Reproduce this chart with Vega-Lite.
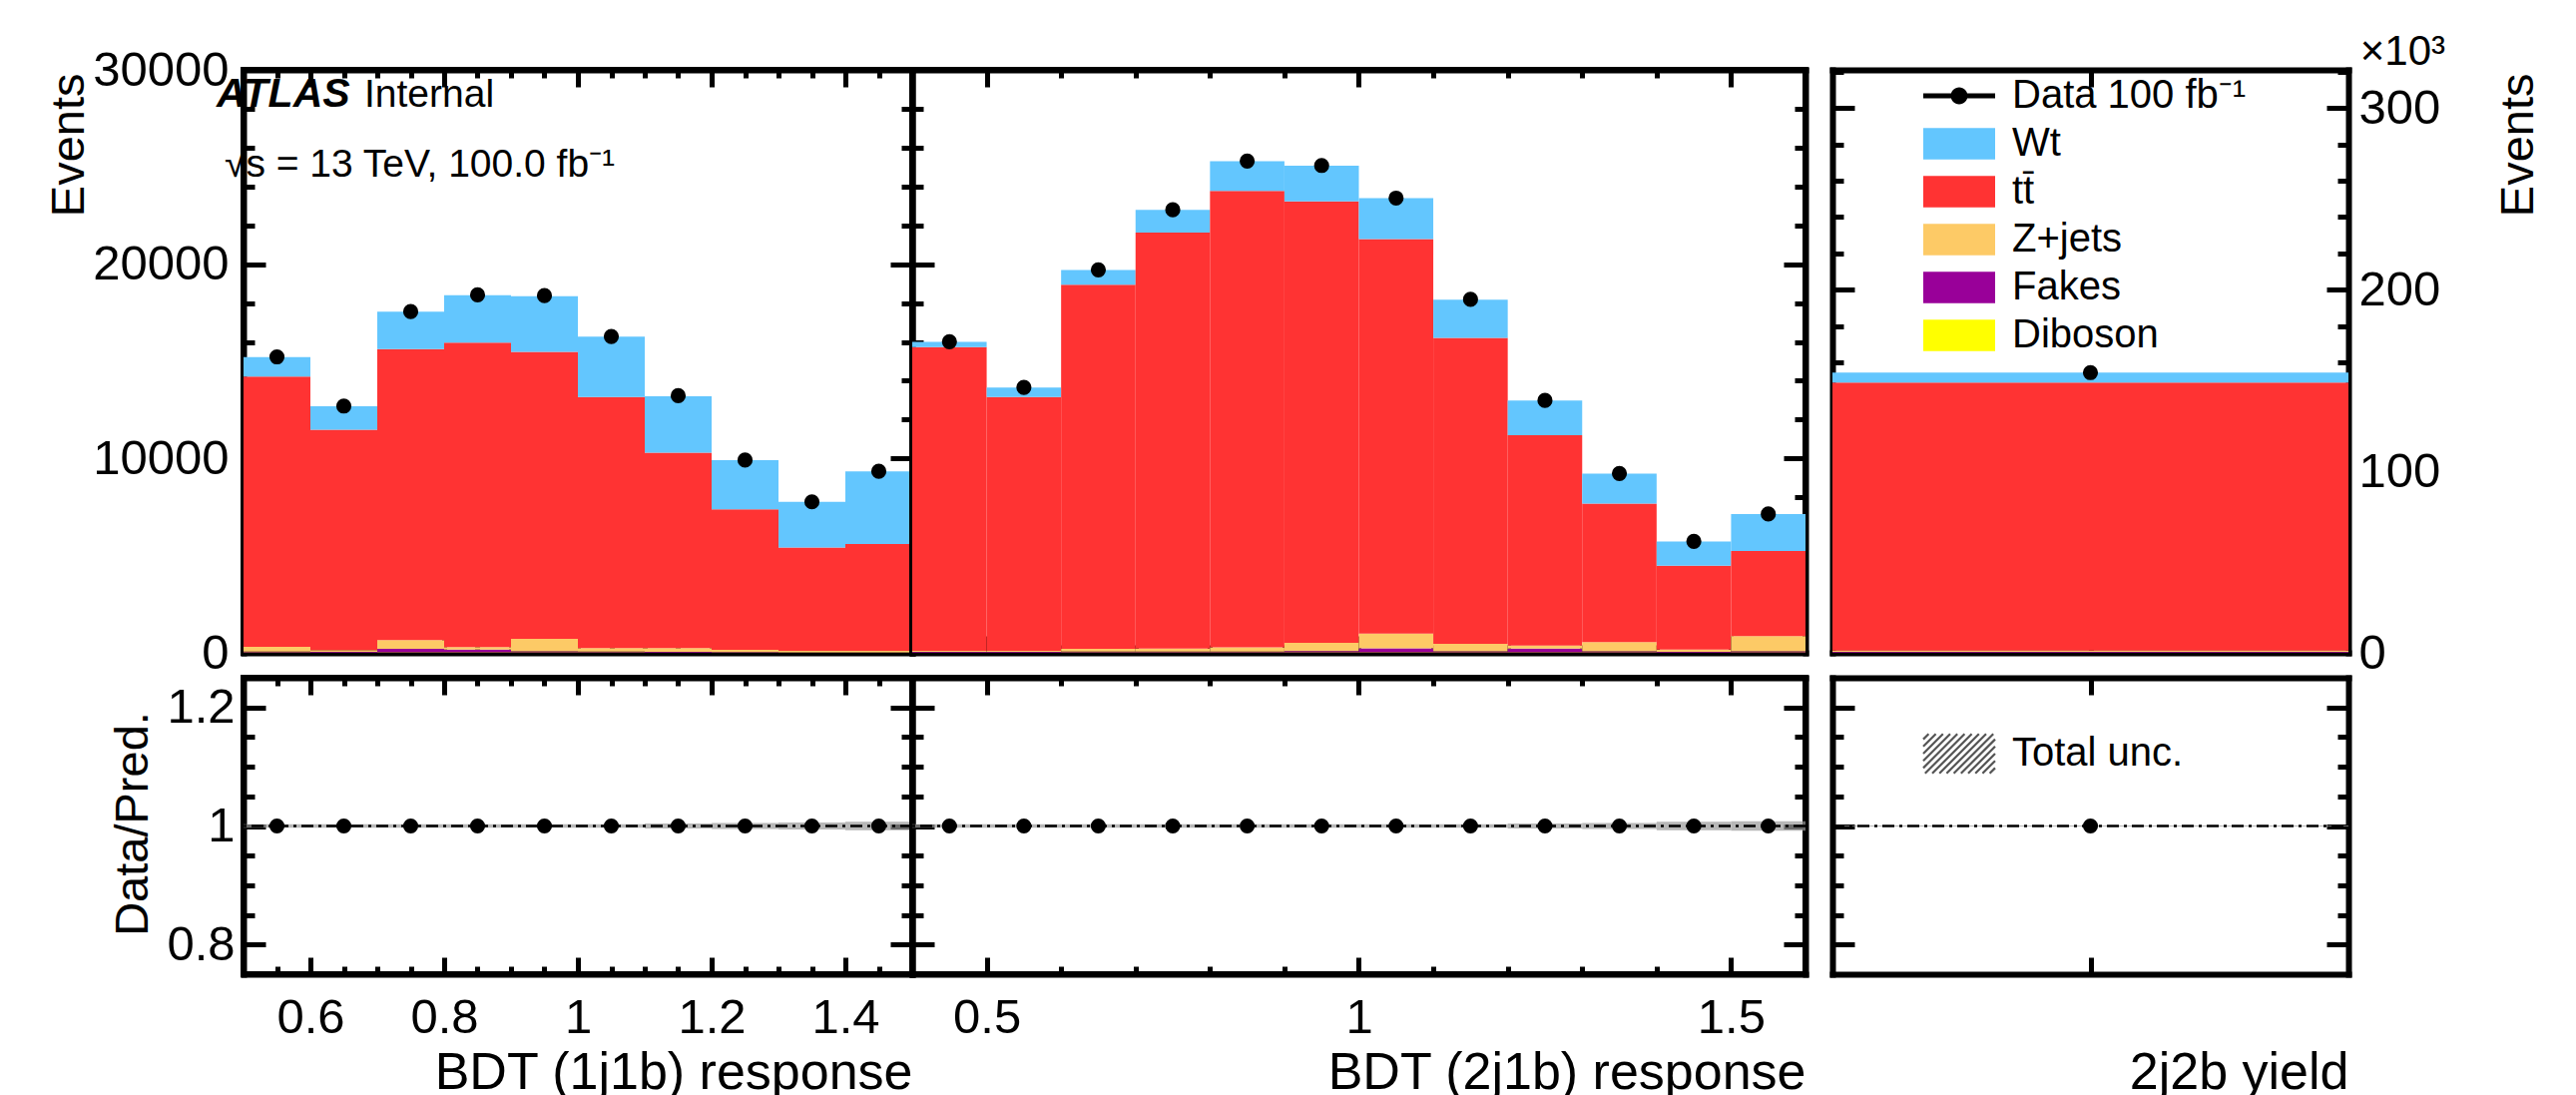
{
"$schema": "https://vega.github.io/schema/vega-lite/v6.json",
"background": "white",
"padding": {"left": 42, "top": 31, "right": 0, "bottom": 0},
"config": {
  "view": {"stroke": null},
  "font": "Liberation Sans",
  "axis": {"grid": false, "domain": true, "domainColor": "black", "domainWidth": 6, "domainCap": "square", "tickColor": "black", "tickWidth": 5, "labelFont": "Liberation Sans", "labelFontSize": 49, "labelColor": "black", "titleFont": "Liberation Sans", "titleFontWeight": "normal", "titleColor": "black", "labelOverlap": false, "labelFlush": false, "labelBound": false, "zindex": 1}
},
"datasets": {
  "p1": [
    {"lo":0.5,"hi":0.6,"process":"Diboson","k":1,"events":20},{"lo":0.5,"hi":0.6,"process":"Fakes","k":2,"events":40},{"lo":0.5,"hi":0.6,"process":"Z+jets","k":3,"events":250},{"lo":0.5,"hi":0.6,"process":"tt̄","k":4,"events":13905},{"lo":0.5,"hi":0.6,"process":"Wt","k":5,"events":1008},
    {"lo":0.6,"hi":0.7,"process":"Diboson","k":1,"events":15},{"lo":0.6,"hi":0.7,"process":"Fakes","k":2,"events":30},{"lo":0.6,"hi":0.7,"process":"Z+jets","k":3,"events":90},{"lo":0.6,"hi":0.7,"process":"tt̄","k":4,"events":11349},{"lo":0.6,"hi":0.7,"process":"Wt","k":5,"events":1209},
    {"lo":0.7,"hi":0.8,"process":"Diboson","k":1,"events":25},{"lo":0.7,"hi":0.8,"process":"Fakes","k":2,"events":180},{"lo":0.7,"hi":0.8,"process":"Z+jets","k":3,"events":445},{"lo":0.7,"hi":0.8,"process":"tt̄","k":4,"events":14976},{"lo":0.7,"hi":0.8,"process":"Wt","k":5,"events":1925},
    {"lo":0.8,"hi":0.9,"process":"Diboson","k":1,"events":20},{"lo":0.8,"hi":0.9,"process":"Fakes","k":2,"events":150},{"lo":0.8,"hi":0.9,"process":"Z+jets","k":3,"events":130},{"lo":0.8,"hi":0.9,"process":"tt̄","k":4,"events":15662},{"lo":0.8,"hi":0.9,"process":"Wt","k":5,"events":2440},
    {"lo":0.9,"hi":1.0,"process":"Diboson","k":1,"events":25},{"lo":0.9,"hi":1.0,"process":"Fakes","k":2,"events":50},{"lo":0.9,"hi":1.0,"process":"Z+jets","k":3,"events":645},{"lo":0.9,"hi":1.0,"process":"tt̄","k":4,"events":14771},{"lo":0.9,"hi":1.0,"process":"Wt","k":5,"events":2866},
    {"lo":1.0,"hi":1.1,"process":"Diboson","k":1,"events":20},{"lo":1.0,"hi":1.1,"process":"Fakes","k":2,"events":40},{"lo":1.0,"hi":1.1,"process":"Z+jets","k":3,"events":190},{"lo":1.0,"hi":1.1,"process":"tt̄","k":4,"events":12913},{"lo":1.0,"hi":1.1,"process":"Wt","k":5,"events":3112},
    {"lo":1.1,"hi":1.2,"process":"Diboson","k":1,"events":15},{"lo":1.1,"hi":1.2,"process":"Fakes","k":2,"events":35},{"lo":1.1,"hi":1.2,"process":"Z+jets","k":3,"events":200},{"lo":1.1,"hi":1.2,"process":"tt̄","k":4,"events":10048},{"lo":1.1,"hi":1.2,"process":"Wt","k":5,"events":2910},
    {"lo":1.2,"hi":1.3,"process":"Diboson","k":1,"events":10},{"lo":1.2,"hi":1.3,"process":"Fakes","k":2,"events":30},{"lo":1.2,"hi":1.3,"process":"Z+jets","k":3,"events":110},{"lo":1.2,"hi":1.3,"process":"tt̄","k":4,"events":7237},{"lo":1.2,"hi":1.3,"process":"Wt","k":5,"events":2530},
    {"lo":1.3,"hi":1.4,"process":"Diboson","k":1,"events":10},{"lo":1.3,"hi":1.4,"process":"Fakes","k":2,"events":20},{"lo":1.3,"hi":1.4,"process":"Z+jets","k":3,"events":70},{"lo":1.3,"hi":1.4,"process":"tt̄","k":4,"events":5317},{"lo":1.3,"hi":1.4,"process":"Wt","k":5,"events":2351},
    {"lo":1.4,"hi":1.5,"process":"Diboson","k":1,"events":10},{"lo":1.4,"hi":1.5,"process":"Fakes","k":2,"events":20},{"lo":1.4,"hi":1.5,"process":"Z+jets","k":3,"events":70},{"lo":1.4,"hi":1.5,"process":"tt̄","k":4,"events":5497},{"lo":1.4,"hi":1.5,"process":"Wt","k":5,"events":3738}
  ],
  "p1d": [
    {"c":0.55,"data":15230},{"c":0.65,"data":12700},{"c":0.75,"data":17560},{"c":0.85,"data":18420},{"c":0.95,"data":18380},
    {"c":1.05,"data":16280},{"c":1.15,"data":13230},{"c":1.25,"data":9920},{"c":1.35,"data":7770},{"c":1.45,"data":9340}
  ],
  "p1r": [
    {"lo":0.5,"hi":0.6,"c":0.55,"ratio":1,"dn":0.997,"up":1.003},{"lo":0.6,"hi":0.7,"c":0.65,"ratio":1,"dn":0.997,"up":1.003},
    {"lo":0.7,"hi":0.8,"c":0.75,"ratio":1,"dn":0.997,"up":1.003},{"lo":0.8,"hi":0.9,"c":0.85,"ratio":1,"dn":0.997,"up":1.003},
    {"lo":0.9,"hi":1.0,"c":0.95,"ratio":1,"dn":0.997,"up":1.003},{"lo":1.0,"hi":1.1,"c":1.05,"ratio":1,"dn":0.997,"up":1.003},
    {"lo":1.1,"hi":1.2,"c":1.15,"ratio":1,"dn":0.996,"up":1.004},{"lo":1.2,"hi":1.3,"c":1.25,"ratio":1,"dn":0.995,"up":1.005},
    {"lo":1.3,"hi":1.4,"c":1.35,"ratio":1,"dn":0.994,"up":1.006},{"lo":1.4,"hi":1.5,"c":1.45,"ratio":1,"dn":0.993,"up":1.007}
  ],
  "p2": [
    {"lo":0.4,"hi":0.5,"process":"Diboson","k":1,"events":15},{"lo":0.4,"hi":0.5,"process":"Fakes","k":2,"events":35},{"lo":0.4,"hi":0.5,"process":"Z+jets","k":3,"events":50},{"lo":0.4,"hi":0.5,"process":"tt̄","k":4,"events":15638},{"lo":0.4,"hi":0.5,"process":"Wt","k":5,"events":268},
    {"lo":0.5,"hi":0.6,"process":"Diboson","k":1,"events":15},{"lo":0.5,"hi":0.6,"process":"Fakes","k":2,"events":35},{"lo":0.5,"hi":0.6,"process":"Z+jets","k":3,"events":50},{"lo":0.5,"hi":0.6,"process":"tt̄","k":4,"events":13063},{"lo":0.5,"hi":0.6,"process":"Wt","k":5,"events":493},
    {"lo":0.6,"hi":0.7,"process":"Diboson","k":1,"events":20},{"lo":0.6,"hi":0.7,"process":"Fakes","k":2,"events":40},{"lo":0.6,"hi":0.7,"process":"Z+jets","k":3,"events":140},{"lo":0.6,"hi":0.7,"process":"tt̄","k":4,"events":18739},{"lo":0.6,"hi":0.7,"process":"Wt","k":5,"events":761},
    {"lo":0.7,"hi":0.8,"process":"Diboson","k":1,"events":20},{"lo":0.7,"hi":0.8,"process":"Fakes","k":2,"events":40},{"lo":0.7,"hi":0.8,"process":"Z+jets","k":3,"events":160},{"lo":0.7,"hi":0.8,"process":"tt̄","k":4,"events":21405},{"lo":0.7,"hi":0.8,"process":"Wt","k":5,"events":1164},
    {"lo":0.8,"hi":0.9,"process":"Diboson","k":1,"events":20},{"lo":0.8,"hi":0.9,"process":"Fakes","k":2,"events":50},{"lo":0.8,"hi":0.9,"process":"Z+jets","k":3,"events":210},{"lo":0.8,"hi":0.9,"process":"tt̄","k":4,"events":23494},{"lo":0.8,"hi":0.9,"process":"Wt","k":5,"events":1523},
    {"lo":0.9,"hi":1.0,"process":"Diboson","k":1,"events":25},{"lo":0.9,"hi":1.0,"process":"Fakes","k":2,"events":60},{"lo":0.9,"hi":1.0,"process":"Z+jets","k":3,"events":430},{"lo":0.9,"hi":1.0,"process":"tt̄","k":4,"events":22722},{"lo":0.9,"hi":1.0,"process":"Wt","k":5,"events":1836},
    {"lo":1.0,"hi":1.1,"process":"Diboson","k":1,"events":25},{"lo":1.0,"hi":1.1,"process":"Fakes","k":2,"events":200},{"lo":1.0,"hi":1.1,"process":"Z+jets","k":3,"events":765},{"lo":1.0,"hi":1.1,"process":"tt̄","k":4,"events":20299},{"lo":1.0,"hi":1.1,"process":"Wt","k":5,"events":2105},
    {"lo":1.1,"hi":1.2,"process":"Diboson","k":1,"events":20},{"lo":1.1,"hi":1.2,"process":"Fakes","k":2,"events":60},{"lo":1.1,"hi":1.2,"process":"Z+jets","k":3,"events":380},{"lo":1.1,"hi":1.2,"process":"tt̄","k":4,"events":15748},{"lo":1.1,"hi":1.2,"process":"Wt","k":5,"events":1970},
    {"lo":1.2,"hi":1.3,"process":"Diboson","k":1,"events":20},{"lo":1.2,"hi":1.3,"process":"Fakes","k":2,"events":200},{"lo":1.2,"hi":1.3,"process":"Z+jets","k":3,"events":157},{"lo":1.2,"hi":1.3,"process":"tt̄","k":4,"events":10816},{"lo":1.2,"hi":1.3,"process":"Wt","k":5,"events":1791},
    {"lo":1.3,"hi":1.4,"process":"Diboson","k":1,"events":20},{"lo":1.3,"hi":1.4,"process":"Fakes","k":2,"events":60},{"lo":1.3,"hi":1.4,"process":"Z+jets","k":3,"events":468},{"lo":1.3,"hi":1.4,"process":"tt̄","k":4,"events":7131},{"lo":1.3,"hi":1.4,"process":"Wt","k":5,"events":1544},
    {"lo":1.4,"hi":1.5,"process":"Diboson","k":1,"events":15},{"lo":1.4,"hi":1.5,"process":"Fakes","k":2,"events":40},{"lo":1.4,"hi":1.5,"process":"Z+jets","k":3,"events":116},{"lo":1.4,"hi":1.5,"process":"tt̄","k":4,"events":4306},{"lo":1.4,"hi":1.5,"process":"Wt","k":5,"events":1254},
    {"lo":1.5,"hi":1.6,"process":"Diboson","k":1,"events":20},{"lo":1.5,"hi":1.6,"process":"Fakes","k":2,"events":60},{"lo":1.5,"hi":1.6,"process":"Z+jets","k":3,"events":776},{"lo":1.5,"hi":1.6,"process":"tt̄","k":4,"events":4382},{"lo":1.5,"hi":1.6,"process":"Wt","k":5,"events":1903}
  ],
  "p2d": [
    {"c":0.45,"data":16010},{"c":0.55,"data":13660},{"c":0.65,"data":19710},{"c":0.75,"data":22800},{"c":0.85,"data":25310},{"c":0.95,"data":25080},
    {"c":1.05,"data":23400},{"c":1.15,"data":18190},{"c":1.25,"data":12990},{"c":1.35,"data":9230},{"c":1.45,"data":5735},{"c":1.55,"data":7145}
  ],
  "p2r": [
    {"lo":0.4,"hi":0.5,"c":0.45,"ratio":1,"dn":0.997,"up":1.003},{"lo":0.5,"hi":0.6,"c":0.55,"ratio":1,"dn":0.997,"up":1.003},
    {"lo":0.6,"hi":0.7,"c":0.65,"ratio":1,"dn":0.997,"up":1.003},{"lo":0.7,"hi":0.8,"c":0.75,"ratio":1,"dn":0.997,"up":1.003},
    {"lo":0.8,"hi":0.9,"c":0.85,"ratio":1,"dn":0.997,"up":1.003},{"lo":0.9,"hi":1.0,"c":0.95,"ratio":1,"dn":0.997,"up":1.003},
    {"lo":1.0,"hi":1.1,"c":1.05,"ratio":1,"dn":0.997,"up":1.003},{"lo":1.1,"hi":1.2,"c":1.15,"ratio":1,"dn":0.997,"up":1.003},
    {"lo":1.2,"hi":1.3,"c":1.25,"ratio":1,"dn":0.996,"up":1.004},{"lo":1.3,"hi":1.4,"c":1.35,"ratio":1,"dn":0.995,"up":1.005},
    {"lo":1.4,"hi":1.5,"c":1.45,"ratio":1,"dn":0.993,"up":1.007},{"lo":1.5,"hi":1.6,"c":1.55,"ratio":1,"dn":0.992,"up":1.008}
  ],
  "p3": [
    {"lo":0,"hi":1,"process":"Diboson","k":1,"events":200},{"lo":0,"hi":1,"process":"Fakes","k":2,"events":300},{"lo":0,"hi":1,"process":"Z+jets","k":3,"events":800},{"lo":0,"hi":1,"process":"tt̄","k":4,"events":147500},{"lo":0,"hi":1,"process":"Wt","k":5,"events":5500}
  ],
  "p3d": [{"c":0.5,"data":154300}],
  "p3r": [{"lo":0,"hi":1,"c":0.5,"ratio":1,"dn":0.999,"up":1.001}]
},
"concat": [
  {
    "width": 670, "height": 584,
    "view": {"stroke": "black", "strokeWidth": 6},
    "layer": [
      {"data": {"name": "p1"},
       "transform": [{"stack": "events", "groupby": ["lo"], "sort": [{"field": "k", "order": "ascending"}], "as": ["y0", "y1"]}],
       "mark": {"type": "rect"},
       "encoding": {
         "x": {"field": "lo", "type": "quantitative", "scale": {"domain": [0.5, 1.5], "nice": false, "zero": false},
               "axis": {"orient": "bottom", "values": [0.55,0.6,0.65,0.7,0.75,0.8,0.85,0.9,0.95,1,1.05,1.1,1.15,1.2,1.25,1.3,1.35,1.4,1.45], "labels": false, "title": null,
                        "tickSize": {"condition": {"test": "indexof([0.6,0.8,1,1.2,1.4], datum.value) >= 0", "value": -17}, "value": -8}}},
         "x2": {"field": "hi"},
         "y": {"field": "y0", "type": "quantitative", "scale": {"domain": [0, 30000], "nice": false},
               "axis": {"orient": "left", "values": [0,2000,4000,6000,8000,10000,12000,14000,16000,18000,20000,22000,24000,26000,28000,30000], "format": "d",
                        "labelExpr": "datum.value % 10000 === 0 ? datum.label : ''", "labelPadding": 37,
                        "tickSize": {"condition": {"test": "datum.value % 10000 === 0", "value": -22}, "value": -11},
                        "title": "Events", "titleFontSize": 47, "titleAngle": 270, "titleAlign": "right", "titleBaseline": "alphabetic", "titleX": -161, "titleY": 3}},
         "y2": {"field": "y1"},
         "color": {"field": "process", "type": "nominal", "scale": {"domain": ["Wt","tt̄","Z+jets","Fakes","Diboson"], "range": ["#63c6fe","#ff3333","#fdca66","#990099","#ffff00"]}, "legend": null}
       }},
      {"data": {"name": "p1d"}, "mark": {"type": "point", "filled": true, "size": 230, "color": "black", "opacity": 1},
       "encoding": {
         "x": {"field": "c", "type": "quantitative",
               "axis": {"orient": "top", "values": [0.55,0.6,0.65,0.7,0.75,0.8,0.85,0.9,0.95,1,1.05,1.1,1.15,1.2,1.25,1.3,1.35,1.4,1.45], "labels": false, "title": null,
                        "tickSize": {"condition": {"test": "indexof([0.6,0.8,1,1.2,1.4], datum.value) >= 0", "value": -17}, "value": -8}}},
         "y": {"field": "data", "type": "quantitative",
               "axis": {"orient": "right", "values": [0,2000,4000,6000,8000,10000,12000,14000,16000,18000,20000,22000,24000,26000,28000,30000], "labels": false, "title": null,
                        "tickSize": {"condition": {"test": "datum.value % 10000 === 0", "value": -22}, "value": -11}}}
       }},
      {"data": {"values": [{}]}, "mark": {"type": "text", "text": "ATLAS", "font": "Liberation Sans", "fontStyle": "italic", "fontWeight": "bold", "fontSize": 41, "align": "left", "baseline": "alphabetic", "dx": -27, "dy": 37, "color": "black"},
       "encoding": {"x": {"datum": 0.5, "type": "quantitative", "axis": null}, "y": {"datum": 30000, "type": "quantitative", "axis": null}}},
      {"data": {"values": [{}]}, "mark": {"type": "text", "text": "Internal", "font": "Liberation Sans", "fontSize": 39, "align": "left", "baseline": "alphabetic", "dx": 121, "dy": 37, "color": "black"},
       "encoding": {"x": {"datum": 0.5, "type": "quantitative", "axis": null}, "y": {"datum": 30000, "type": "quantitative", "axis": null}}},
      {"data": {"values": [{}]}, "mark": {"type": "text", "text": "√s = 13 TeV, 100.0 fb⁻¹", "font": "Liberation Sans", "fontSize": 39, "align": "left", "baseline": "alphabetic", "dx": -19, "dy": 107, "color": "black"},
       "encoding": {"x": {"datum": 0.5, "type": "quantitative", "axis": null}, "y": {"datum": 30000, "type": "quantitative", "axis": null}}}
    ],
    "resolve": {"axis": {"x": "independent", "y": "independent"}}
  },
  {
    "width": 895, "height": 584,
    "view": {"stroke": "black", "strokeWidth": 6},
    "layer": [
      {"data": {"name": "p2"},
       "transform": [{"stack": "events", "groupby": ["lo"], "sort": [{"field": "k", "order": "ascending"}], "as": ["y0", "y1"]}],
       "mark": {"type": "rect"},
       "encoding": {
         "x": {"field": "lo", "type": "quantitative", "scale": {"domain": [0.4, 1.6], "nice": false, "zero": false},
               "axis": {"orient": "bottom", "values": [0.5,0.6,0.7,0.8,0.9,1,1.1,1.2,1.3,1.4,1.5], "labels": false, "title": null,
                        "tickSize": {"condition": {"test": "indexof([0.5,1,1.5], datum.value) >= 0", "value": -17}, "value": -8}}},
         "x2": {"field": "hi"},
         "y": {"field": "y0", "type": "quantitative", "scale": {"domain": [0, 30000], "nice": false},
               "axis": {"orient": "left", "values": [0,2000,4000,6000,8000,10000,12000,14000,16000,18000,20000,22000,24000,26000,28000,30000], "labels": false, "title": null,
                        "tickSize": {"condition": {"test": "datum.value % 10000 === 0", "value": -22}, "value": -11}}},
         "y2": {"field": "y1"},
         "color": {"field": "process", "type": "nominal", "scale": {"domain": ["Wt","tt̄","Z+jets","Fakes","Diboson"], "range": ["#63c6fe","#ff3333","#fdca66","#990099","#ffff00"]}, "legend": null}
       }},
      {"data": {"name": "p2d"}, "mark": {"type": "point", "filled": true, "size": 230, "color": "black", "opacity": 1},
       "encoding": {
         "x": {"field": "c", "type": "quantitative",
               "axis": {"orient": "top", "values": [0.5,0.6,0.7,0.8,0.9,1,1.1,1.2,1.3,1.4,1.5], "labels": false, "title": null,
                        "tickSize": {"condition": {"test": "indexof([0.5,1,1.5], datum.value) >= 0", "value": -17}, "value": -8}}},
         "y": {"field": "data", "type": "quantitative",
               "axis": {"orient": "right", "values": [0,2000,4000,6000,8000,10000,12000,14000,16000,18000,20000,22000,24000,26000,28000,30000], "labels": false, "title": null,
                        "tickSize": {"condition": {"test": "datum.value % 10000 === 0", "value": -22}, "value": -11}}}
       }}
    ],
    "resolve": {"axis": {"x": "independent", "y": "independent"}}
  },
  {
    "width": 544, "height": 584,
    "layer": [
      {"data": {"name": "p3"},
       "transform": [{"stack": "events", "groupby": ["lo"], "sort": [{"field": "k", "order": "ascending"}], "as": ["y0", "y1"]}],
       "mark": {"type": "rect"},
       "encoding": {
         "x": {"field": "lo", "type": "quantitative", "scale": {"domain": [0, 1], "range": [27, 544], "nice": false, "zero": false},
               "axis": {"orient": "bottom", "values": [0.5], "labels": false, "title": null, "tickSize": -17}},
         "x2": {"field": "hi"},
         "y": {"field": "y0", "type": "quantitative", "scale": {"domain": [0, 321000], "nice": false},
               "axis": {"orient": "left", "offset": -27, "values": [0,20000,40000,60000,80000,100000,120000,140000,160000,180000,200000,220000,240000,260000,280000,300000,320000], "labels": false, "title": null,
                        "tickSize": {"condition": {"test": "datum.value % 100000 === 0", "value": -22}, "value": -11}}},
         "y2": {"field": "y1"},
         "color": {"field": "process", "type": "nominal",
                   "scale": {"domain": ["Data 100 fb⁻¹","Wt","tt̄","Z+jets","Fakes","Diboson"], "range": ["#000000","#63c6fe","#ff3333","#fdca66","#990099","#ffff00"]},
                   "legend": {"orient": "none", "legendX": 134, "legendY": 6, "title": null,
                              "symbolType": "M-2,-0.88H2V0.88H-2Z", "symbolSize": 1296, "symbolStrokeWidth": 0, "symbolOpacity": 1,
                              "labelFont": "Liberation Sans", "labelFontSize": 40, "labelColor": "black", "labelOffset": 33, "labelLimit": 500, "rowPadding": 8,
                              "encode": {"symbols": {"update": {"shape": [{"test": "datum.index === 0", "value": "M-2,-0.14H2V0.14H-2Z M0.47,0A0.47,0.47,0,1,1,-0.47,0A0.47,0.47,0,1,1,0.47,0Z"}, {"value": "M-2,-0.88H2V0.88H-2Z"}], "opacity": {"value": 1}, "strokeWidth": {"value": 0}}}}}}
       }},
      {"data": {"name": "p3d"}, "mark": {"type": "point", "filled": true, "size": 230, "opacity": 1},
       "encoding": {
         "x": {"field": "c", "type": "quantitative",
               "axis": {"orient": "top", "values": [0.5], "labels": false, "title": null, "tickSize": -17}},
         "y": {"field": "data", "type": "quantitative",
               "axis": {"orient": "right", "values": [0,20000,40000,60000,80000,100000,120000,140000,160000,180000,200000,220000,240000,260000,280000,300000,320000],
                        "labelExpr": "datum.value % 100000 === 0 ? format(datum.value / 1000, 'd') : ''", "labelPadding": 32,
                        "tickSize": {"condition": {"test": "datum.value % 100000 === 0", "value": -22}, "value": -11},
                        "title": "Events", "titleFontSize": 47, "titleAngle": 270, "titleAlign": "right", "titleBaseline": "alphabetic", "titleX": 184, "titleY": 3}},
         "color": {"datum": "Data 100 fb⁻¹", "type": "nominal"}
       }},
      {"data": {"values": [{}]}, "mark": {"type": "text", "text": "×10³", "font": "Liberation Sans", "fontSize": 42, "align": "right", "baseline": "alphabetic", "dx": 97, "dy": -5, "color": "black"},
       "encoding": {"x": {"datum": 1, "type": "quantitative", "axis": null}, "y": {"datum": 321000, "type": "quantitative", "axis": null}}}
    ],
    "resolve": {"axis": {"x": "independent", "y": "independent"}}
  },
  {
    "width": 670, "height": 297,
    "view": {"stroke": "black", "strokeWidth": 6},
    "layer": [
      {"data": {"name": "p1r"}, "mark": {"type": "rect", "color": "#999999", "opacity": 0.7},
       "encoding": {
         "x": {"field": "lo", "type": "quantitative", "scale": {"domain": [0.5, 1.5], "nice": false, "zero": false},
               "axis": {"orient": "bottom", "values": [0.55,0.6,0.65,0.7,0.75,0.8,0.85,0.9,0.95,1,1.05,1.1,1.15,1.2,1.25,1.3,1.35,1.4,1.45], "format": "~g",
                        "labelExpr": "indexof([0.6,0.8,1,1.2,1.4], datum.value) >= 0 ? datum.label : ''", "labelPadding": 36,
                        "tickSize": {"condition": {"test": "indexof([0.6,0.8,1,1.2,1.4], datum.value) >= 0", "value": -17}, "value": -8},
                        "title": "BDT (1j1b) response", "titleFontSize": 52, "titleAnchor": "end", "titleAlign": "right", "titleBaseline": "alphabetic", "titleY": 114}},
         "x2": {"field": "hi"},
         "y": {"field": "dn", "type": "quantitative", "scale": {"domain": [0.75, 1.25], "nice": false, "zero": false},
               "axis": {"orient": "left", "values": [0.8,0.85,0.9,0.95,1,1.05,1.1,1.15,1.2], "format": "~g",
                        "labelExpr": "indexof([0.8,1,1.2], datum.value) >= 0 ? datum.label : ''", "labelPadding": 31,
                        "tickSize": {"condition": {"test": "indexof([0.8,1,1.2], datum.value) >= 0", "value": -22}, "value": -11},
                        "title": "Data/Pred.", "titleFontSize": 47, "titleAngle": 270, "titleAlign": "center", "titleBaseline": "alphabetic", "titleX": -97, "titleY": 146}},
         "y2": {"field": "up"}
       }},
      {"data": {"values": [{}]}, "mark": {"type": "rule", "color": "black", "strokeWidth": 2.5, "strokeDash": [12, 5, 3, 5]},
       "encoding": {"y": {"datum": 1, "type": "quantitative", "axis": null}}},
      {"data": {"name": "p1r"}, "mark": {"type": "point", "filled": true, "size": 230, "color": "black", "opacity": 1},
       "encoding": {
         "x": {"field": "c", "type": "quantitative",
               "axis": {"orient": "top", "values": [0.55,0.6,0.65,0.7,0.75,0.8,0.85,0.9,0.95,1,1.05,1.1,1.15,1.2,1.25,1.3,1.35,1.4,1.45], "labels": false, "title": null,
                        "tickSize": {"condition": {"test": "indexof([0.6,0.8,1,1.2,1.4], datum.value) >= 0", "value": -17}, "value": -8}}},
         "y": {"field": "ratio", "type": "quantitative",
               "axis": {"orient": "right", "values": [0.8,0.85,0.9,0.95,1,1.05,1.1,1.15,1.2], "labels": false, "title": null,
                        "tickSize": {"condition": {"test": "indexof([0.8,1,1.2], datum.value) >= 0", "value": -22}, "value": -11}}}
       }}
    ],
    "resolve": {"axis": {"x": "independent", "y": "independent"}}
  },
  {
    "width": 895, "height": 297,
    "view": {"stroke": "black", "strokeWidth": 6},
    "layer": [
      {"data": {"name": "p2r"}, "mark": {"type": "rect", "color": "#999999", "opacity": 0.7},
       "encoding": {
         "x": {"field": "lo", "type": "quantitative", "scale": {"domain": [0.4, 1.6], "nice": false, "zero": false},
               "axis": {"orient": "bottom", "values": [0.5,0.6,0.7,0.8,0.9,1,1.1,1.2,1.3,1.4,1.5], "format": "~g",
                        "labelExpr": "indexof([0.5,1,1.5], datum.value) >= 0 ? datum.label : ''", "labelPadding": 36,
                        "tickSize": {"condition": {"test": "indexof([0.5,1,1.5], datum.value) >= 0", "value": -17}, "value": -8},
                        "title": "BDT (2j1b) response", "titleFontSize": 52, "titleAnchor": "end", "titleAlign": "right", "titleBaseline": "alphabetic", "titleY": 114}},
         "x2": {"field": "hi"},
         "y": {"field": "dn", "type": "quantitative", "scale": {"domain": [0.75, 1.25], "nice": false, "zero": false},
               "axis": {"orient": "left", "values": [0.8,0.85,0.9,0.95,1,1.05,1.1,1.15,1.2], "labels": false, "title": null,
                        "tickSize": {"condition": {"test": "indexof([0.8,1,1.2], datum.value) >= 0", "value": -22}, "value": -11}}},
         "y2": {"field": "up"}
       }},
      {"data": {"values": [{}]}, "mark": {"type": "rule", "color": "black", "strokeWidth": 2.5, "strokeDash": [12, 5, 3, 5]},
       "encoding": {"y": {"datum": 1, "type": "quantitative", "axis": null}}},
      {"data": {"name": "p2r"}, "mark": {"type": "point", "filled": true, "size": 230, "color": "black", "opacity": 1},
       "encoding": {
         "x": {"field": "c", "type": "quantitative",
               "axis": {"orient": "top", "values": [0.5,0.6,0.7,0.8,0.9,1,1.1,1.2,1.3,1.4,1.5], "labels": false, "title": null,
                        "tickSize": {"condition": {"test": "indexof([0.5,1,1.5], datum.value) >= 0", "value": -17}, "value": -8}}},
         "y": {"field": "ratio", "type": "quantitative",
               "axis": {"orient": "right", "values": [0.8,0.85,0.9,0.95,1,1.05,1.1,1.15,1.2], "labels": false, "title": null,
                        "tickSize": {"condition": {"test": "indexof([0.8,1,1.2], datum.value) >= 0", "value": -22}, "value": -11}}}
       }}
    ],
    "resolve": {"axis": {"x": "independent", "y": "independent"}}
  },
  {
    "width": 544, "height": 297,
    "layer": [
      {"data": {"name": "p3r"}, "mark": {"type": "rect", "opacity": 0.7},
       "encoding": {
         "x": {"field": "lo", "type": "quantitative", "scale": {"domain": [0, 1], "range": [27, 544], "nice": false, "zero": false},
               "axis": {"orient": "bottom", "values": [0.5], "labels": false, "tickSize": -17,
                        "title": "2j2b yield", "titleFontSize": 52, "titleAnchor": "end", "titleAlign": "right", "titleBaseline": "alphabetic", "titleY": 114}},
         "x2": {"field": "hi"},
         "y": {"field": "dn", "type": "quantitative", "scale": {"domain": [0.75, 1.25], "nice": false, "zero": false},
               "axis": {"orient": "left", "offset": -27, "values": [0.8,0.85,0.9,0.95,1,1.05,1.1,1.15,1.2], "labels": false, "title": null,
                        "tickSize": {"condition": {"test": "indexof([0.8,1,1.2], datum.value) >= 0", "value": -22}, "value": -11}}},
         "y2": {"field": "up"},
         "color": {"datum": "Total unc.", "type": "nominal", "scale": {"domain": ["Total unc."], "range": ["#999999"]},
                   "legend": {"orient": "none", "legendX": 134, "legendY": 56, "title": null,
                              "symbolType": "M-2,-0.8L-1.7,-1.1M-2,-0.4L-1.3,-1.1M-2,0L-0.9,-1.1M-2,0.4L-0.5,-1.1M-2,0.8L-0.1,-1.1M-1.9,1.1L0.3,-1.1M-1.5,1.1L0.7,-1.1M-1.1,1.1L1.1,-1.1M-0.7,1.1L1.5,-1.1M-0.3,1.1L1.9,-1.1M0.1,1.1L2,-0.8M0.5,1.1L2,-0.4M0.9,1.1L2,0M1.3,1.1L2,0.4M1.7,1.1L2,0.8",
                              "symbolSize": 1296, "symbolOpacity": 1,
                              "labelFont": "Liberation Sans", "labelFontSize": 40, "labelColor": "black", "labelOffset": 33, "labelLimit": 500,
                              "encode": {"symbols": {"update": {"fill": {"value": "transparent"}, "stroke": {"value": "#555555"}, "strokeWidth": {"value": 2.2}, "opacity": {"value": 1}}}}}}
       }},
      {"data": {"values": [{}]}, "mark": {"type": "rule", "color": "black", "strokeWidth": 2.5, "strokeDash": [12, 5, 3, 5]},
       "encoding": {"x": {"datum": 0, "type": "quantitative", "axis": null}, "x2": {"datum": 1}, "y": {"datum": 1, "type": "quantitative", "axis": null}}},
      {"data": {"name": "p3r"}, "mark": {"type": "point", "filled": true, "size": 230, "color": "black", "opacity": 1},
       "encoding": {
         "x": {"field": "c", "type": "quantitative",
               "axis": {"orient": "top", "values": [0.5], "labels": false, "title": null, "tickSize": -17}},
         "y": {"field": "ratio", "type": "quantitative",
               "axis": {"orient": "right", "values": [0.8,0.85,0.9,0.95,1,1.05,1.1,1.15,1.2], "labels": false, "title": null,
                        "tickSize": {"condition": {"test": "indexof([0.8,1,1.2], datum.value) >= 0", "value": -22}, "value": -11}}}
       }}
    ],
    "resolve": {"axis": {"x": "independent", "y": "independent"}}
  }
],
"columns": 3,
"spacing": {"row": 25, "column": 0},
"bounds": "flush",
"resolve": {"scale": {"x": "independent", "y": "independent", "color": "independent"}, "legend": {"color": "independent"}}
}
